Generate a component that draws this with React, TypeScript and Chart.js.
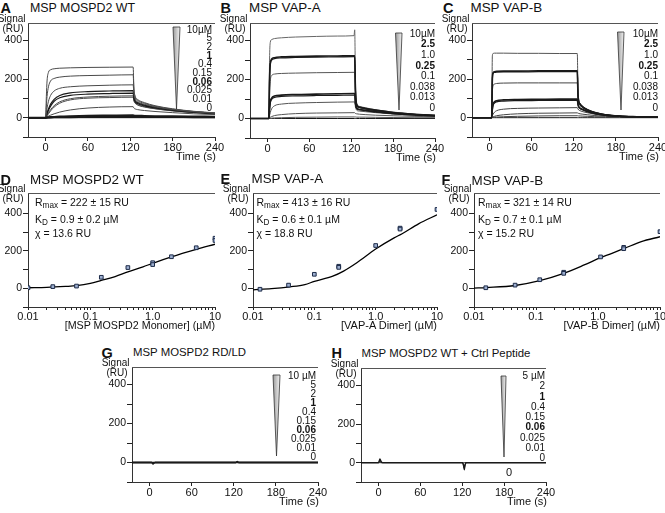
import { useEffect, useRef } from 'react';
import { Chart, registerables } from 'chart.js';
Chart.register(...registerables);

const NARROW = '"Liberation Sans Narrow", "Arial Narrow", "Liberation Sans", Arial, sans-serif';
const SANS = '"Liberation Sans", Arial, Helvetica, sans-serif';

// ---------- axis ticks ----------
const TIME_TICKS = [0, 60, 120, 180, 240];
const SIGNAL_TICKS = [-100, 0, 100, 200, 300, 400];
const SIGNAL_LABELED = [0, 200, 400];
const CONC_TICKS = [0.01, 0.02, 0.03, 0.04, 0.05, 0.06, 0.07, 0.08, 0.09, 0.1, 0.2, 0.3, 0.4, 0.5, 0.6, 0.7, 0.8, 0.9, 1, 2, 3, 4, 5, 6, 7, 8, 9, 10];
const CONC_LABELED = [0.01, 0.1, 1, 10];
const CONC_LABEL_TEXT = ['0.01', '0.1', '1.0', '10'];

// ---------- A: MSP MOSPD2 WT sensorgrams ----------
const A_T = [-25, 0, 1, 2, 4, 7, 12, 20, 35, 60, 90, 124, 125, 127, 130, 140, 155, 180, 210, 240];
const A_10 = [0, 0, 110, 190, 235, 248, 253, 256, 258, 260, 261, 262, 160, 110, 95, 78, 62, 46, 33, 25];
const A_5 = [0, 0, 60, 110, 160, 190, 203, 210, 215, 218, 220, 222, 150, 104, 90, 74, 59, 44, 32, 24];
const A_2 = [0, 0, 25, 50, 85, 115, 138, 152, 160, 165, 168, 170, 125, 95, 83, 69, 56, 42, 31, 23];
const A_1a = [0, 0, 12, 25, 45, 70, 95, 115, 128, 135, 138, 140, 110, 88, 78, 65, 53, 40, 30, 22];
const A_1b = [0, 0, 10, 20, 38, 60, 85, 103, 115, 122, 125, 127, 100, 82, 73, 61, 50, 38, 28, 21];
const A_04a = [0, 0, 6, 12, 25, 42, 62, 82, 98, 107, 111, 113, 92, 77, 68, 57, 47, 36, 27, 20];
const A_04b = [0, 0, 5, 10, 20, 35, 55, 75, 92, 101, 104, 106, 88, 74, 66, 55, 46, 35, 26, 20];
const A_015 = [0, 0, 2, 4, 8, 13, 20, 29, 40, 50, 55, 57, 50, 45, 42, 37, 32, 26, 20, 16];
const A_006 = [0, 0, 0, 1, 2, 3, 4, 6, 8, 10, 11, 12, 11, 10, 10, 9, 8, 7, 6, 5];
const A_0025 = [0, 0, 0, 0, 1, 1, 2, 2, 3, 4, 5, 5, 5, 5, 5, 4, 4, 4, 3, 3];
const A_001 = [0, 0, 0, 0, 0, 0, 1, 1, 1, 2, 2, 2, 2, 2, 2, 2, 2, 2, 1, 1];
const A_0 = [0, 0, 0, 0, 0, 0, 0, 0, 0, 0, 0, 0, 0, 0, 0, 0, 0, 0, 0, 0];
const A_LEGEND = ['10µM', '5', '2', '1', '0.4', '0.15', '0.06', '0.025', '0.01', '0'];
const A_BOLD = ['1', '0.06'];

// ---------- B: MSP VAP-A sensorgrams ----------
const B_T = [-25, 0, 2, 3, 4, 6, 10, 20, 40, 70, 100, 124, 125, 126, 128, 132, 140, 155, 180, 210, 240];
const B_10 = [0, 0, 0, 300, 390, 405, 410, 414, 418, 421, 423, 425, 455, 200, 75, 62, 55, 45, 33, 23, 17];
const B_25a = [0, 0, 0, 200, 280, 305, 312, 316, 318, 320, 321, 322, 322, 150, 70, 58, 52, 43, 31, 22, 16];
const B_25b = [0, 0, 0, 195, 275, 300, 307, 311, 313, 315, 316, 317, 317, 145, 68, 57, 51, 42, 30, 21, 15];
const B_1 = [0, 0, 0, 120, 190, 220, 228, 231, 233, 235, 236, 237, 237, 110, 62, 54, 48, 40, 29, 20, 15];
const B_025a = [0, 0, 0, 50, 85, 105, 115, 120, 123, 125, 127, 128, 128, 80, 52, 46, 42, 35, 26, 19, 14];
const B_025b = [0, 0, 0, 45, 78, 98, 108, 113, 116, 118, 119, 120, 120, 76, 50, 45, 40, 34, 25, 18, 13];
const B_01 = [0, 0, 0, 15, 30, 50, 65, 74, 79, 82, 84, 85, 85, 60, 42, 38, 35, 30, 23, 17, 12];
const B_0038 = [0, 0, 0, 3, 6, 10, 15, 20, 25, 28, 29, 30, 30, 26, 24, 22, 20, 17, 14, 11, 9];
const B_0013 = [0, 0, 0, 1, 1, 2, 3, 4, 6, 7, 8, 8, 8, 8, 7, 7, 7, 6, 5, 4, 4];
const B_0 = [0, 0, 0, 0, 0, 0, 0, 0, 0, 0, 0, 0, 0, 0, 0, 0, 0, 0, 0, 0, 0];
const B_LEGEND = ['10µM', '2.5', '1.0', '0.25', '0.1', '0.038', '0.013', '0'];
const B_BOLD = ['2.5', '0.25'];

// ---------- C: MSP VAP-B sensorgrams ----------
const C_T = [-25, 0, 3, 4, 5, 7, 10, 20, 40, 70, 100, 125, 126, 127, 129, 133, 140, 150, 165, 185, 210, 240];
const C_10 = [0, 0, 0, 320, 332, 334, 334, 334, 333, 333, 332, 332, 150, 95, 75, 58, 42, 28, 16, 9, 5, 3];
const C_25a = [0, 0, 0, 200, 232, 238, 240, 241, 241, 242, 242, 242, 120, 85, 70, 55, 40, 27, 15, 8, 5, 3];
const C_25b = [0, 0, 0, 195, 228, 234, 236, 237, 237, 238, 238, 238, 118, 84, 69, 54, 39, 26, 15, 8, 5, 3];
const C_1 = [0, 0, 0, 130, 165, 174, 177, 179, 180, 180, 180, 180, 100, 75, 63, 50, 37, 25, 14, 8, 5, 3];
const C_025a = [0, 0, 0, 45, 70, 82, 88, 92, 94, 95, 96, 96, 70, 58, 50, 42, 32, 22, 13, 7, 4, 2];
const C_025b = [0, 0, 0, 40, 63, 76, 82, 86, 88, 89, 90, 90, 66, 55, 48, 40, 30, 21, 12, 7, 4, 2];
const C_01 = [0, 0, 0, 10, 18, 28, 36, 44, 48, 50, 51, 52, 45, 40, 36, 31, 25, 18, 11, 6, 4, 2];
const C_0038 = [0, 0, 0, 2, 4, 7, 10, 15, 20, 23, 24, 25, 23, 22, 20, 18, 15, 11, 7, 4, 3, 2];
const C_0013 = [0, 0, 0, 1, 1, 2, 3, 5, 7, 9, 10, 10, 10, 9, 9, 8, 7, 5, 4, 3, 2, 1];
const C_0 = [0, 0, 0, 0, 0, 0, 0, 0, 0, 0, 0, 0, 0, 0, 0, 0, 0, 0, 0, 0, 0, 0];
const C_LEGEND = ['10µM', '2.5', '1.0', '0.25', '0.1', '0.038', '0.013', '0'];
const C_BOLD = ['2.5', '0.25'];

// ---------- D/E/F: steady-state binding ----------
const D_X = [0.01, 0.025, 0.06, 0.15, 0.4, 1, 1, 2, 5, 10, 10];
const D_Y = [3, 9, 12, 59, 111, 137, 127, 169, 217, 268, 256];
const D_FIT_X = [0.01, 0.02, 0.04, 0.06, 0.1, 0.15, 0.25, 0.4, 0.7, 1, 2, 5, 10];
const D_FIT_Y = [3, 5, 10, 14, 26, 42, 63, 88, 115, 134, 168, 208, 236];

const E_X = [0.013, 0.038, 0.1, 0.25, 0.25, 1, 2.5, 2.5, 10];
const E_Y = [-5, 17, 75, 118, 112, 229, 322, 317, 422];
const E_FIT_X = [0.01, 0.02, 0.04, 0.07, 0.1, 0.2, 0.3, 0.5, 1, 2, 2.7, 5, 10];
const E_FIT_Y = [-8, -2, 8, 20, 37, 65, 92, 138, 210, 270, 292, 345, 393];

const F_X = [0.0155, 0.046, 0.115, 0.28, 0.28, 1.1, 2.6, 2.6, 10];
const F_Y = [3, 17, 46, 86, 80, 168, 219, 212, 303];
const F_FIT_X = [0.01, 0.016, 0.046, 0.115, 0.28, 0.6, 1.1, 2.6, 5, 10];
const F_FIT_Y = [1, 4, 15, 41, 80, 125, 164, 212, 250, 276];

// ---------- G / H: controls ----------
const G_T = [-25, 0, 3, 4, 5, 6, 8, 60, 123, 125, 127, 180, 240];
const G_a = [0, 0, 0, -4, -8, -4, 0, 0, 0, 5, 0, 0, 0];
const G_b = [0, 0, 0, -2, -5, -2, 0, 0, 0, 3, 0, 0, 0];
const G_c = [0, 0, 0, 0, 0, 0, 0, 0, 0, 0, 0, 0, 0];
const G_LEGEND = ['10 µM', '5', '2', '1', '0.4', '0.15', '0.06', '0.025', '0.01', '0'];
const G_BOLD = ['1', '0.06'];

const H_T = [-25, 0, 1, 2, 3, 4, 6, 60, 120, 121, 122, 123, 124, 126, 180, 240];
const H_a = [0, 0, 8, 20, 14, 4, 0, 0, 0, -5, -20, -38, -15, 0, 0, 0];
const H_b = [0, 0, 5, 15, 10, 2, 0, 0, 0, -3, -12, -28, -10, 0, 0, 0];
const H_c = [0, 0, 0, 0, 0, 0, 0, 0, 0, 0, 0, 0, 0, 0, 0, 0];
const H_LEGEND = ['5 µM', '2', '1', '0.4', '0.15', '0.06', '0.025', '0.01', '0'];
const H_BOLD = ['1', '0.06'];

// ---------- panel geometry ----------
const ML = 34, MR = 14, MT = 6, MB = 24;

type Line = { t: number[]; v: number[]; color: string; width: number };
type Spec = {
  box: [number, number, number, number];
  kind: 'time' | 'conc';
  yMax: number;
  lines: Line[];
  points?: { x: number[]; y: number[] };
  wedge?: [number, number, number, number, number];
};

const DK = '#1a1a1a';
const GR = '#4a4a4a';
const L = (t: number[], v: number[], color: string, width: number): Line => ({ t, v, color, width });

const SPECS: Spec[] = [
  {
    box: [28, 23, 215, 137], kind: 'time', yMax: 490,
    wedge: [173, 180, 27, 176.5, 109],
    lines: [
      L(A_T, A_006, DK, 2), L(A_T, A_0025, DK, 1.6), L(A_T, A_001, DK, 1.4), L(A_T, A_0, DK, 1),
      L(A_T, A_10, GR, 1), L(A_T, A_5, GR, 1), L(A_T, A_2, GR, 1), L(A_T, A_1a, DK, 1.2),
      L(A_T, A_1b, DK, 1.2), L(A_T, A_04a, GR, 1), L(A_T, A_04b, GR, 1), L(A_T, A_015, GR, 1),
    ],
  },
  {
    box: [250, 23, 435, 138], kind: 'time', yMax: 490,
    wedge: [395.5, 402, 33, 399, 110],
    lines: [
      L(B_T, B_25a, DK, 1.6), L(B_T, B_25b, DK, 1.2), L(B_T, B_025a, DK, 1.6), L(B_T, B_025b, DK, 1.2),
      L(B_T, B_10, '#666', 1), L(B_T, B_1, '#555', 1), L(B_T, B_01, '#555', 1),
      L(B_T, B_0038, '#555', 1), L(B_T, B_0013, '#555', 1), L(B_T, B_0, DK, 1),
    ],
  },
  {
    box: [472, 23, 658, 137], kind: 'time', yMax: 490,
    wedge: [617.5, 624, 32, 621, 110],
    lines: [
      L(C_T, C_25a, DK, 1.6), L(C_T, C_25b, DK, 1.2), L(C_T, C_025a, DK, 1.6), L(C_T, C_025b, DK, 1.2),
      L(C_T, C_10, '#555', 1), L(C_T, C_1, '#444', 1), L(C_T, C_01, '#444', 1),
      L(C_T, C_0038, '#444', 1), L(C_T, C_0013, '#444', 1), L(C_T, C_0, DK, 1),
    ],
  },
  {
    box: [28, 193, 215, 307], kind: 'conc', yMax: 510,
    points: { x: D_X, y: D_Y },
    lines: [L(D_FIT_X, D_FIT_Y, '#000', 1.3)],
  },
  {
    box: [253, 193, 437, 307], kind: 'conc', yMax: 510,
    points: { x: E_X, y: E_Y },
    lines: [L(E_FIT_X, E_FIT_Y, '#000', 1.3)],
  },
  {
    box: [474, 193, 660, 307], kind: 'conc', yMax: 510,
    points: { x: F_X, y: F_Y },
    lines: [L(F_FIT_X, F_FIT_Y, '#000', 1.3)],
  },
  {
    box: [132, 367, 318, 482], kind: 'time', yMax: 490,
    wedge: [273, 280, 375, 276.5, 456],
    lines: [L(G_T, G_a, DK, 1.4), L(G_T, G_b, DK, 1.4), L(G_T, G_c, DK, 1.6)],
  },
  {
    box: [361, 368, 546, 482], kind: 'time', yMax: 490,
    wedge: [501, 506, 376, 504, 457],
    lines: [L(H_T, H_a, DK, 1.2), L(H_T, H_b, DK, 1.2), L(H_T, H_c, DK, 1)],
  },
];

function geom(box: [number, number, number, number]) {
  const [l, t, r, b] = box;
  return { x: l - ML, y: t - MT, w: r - l + ML + MR, h: b - t + MT + MB };
}

function makeConfig(spec: Spec, g: { x: number; y: number }): any {
  const datasets: any[] = [];
  if (spec.points) {
    datasets.push({
      type: 'scatter',
      data: spec.points.x.map((x, i) => ({ x, y: spec.points!.y[i] })),
      pointStyle: 'rect',
      pointRadius: 2.6,
      borderWidth: 1,
      borderColor: '#1d2b48',
      backgroundColor: '#9dafd0',
    });
  }
  for (const ln of spec.lines) {
    datasets.push({
      type: 'line',
      data: ln.t.map((x, i) => ({ x, y: ln.v[i] })),
      borderColor: ln.color,
      borderWidth: ln.width,
      pointRadius: 0,
      fill: false,
      cubicInterpolationMode: 'monotone',
    });
  }
  const axisGrid = { display: true, drawOnChartArea: false, drawTicks: true, tickLength: 4, color: '#222', lineWidth: 1 };
  const axisBorder = { display: true, color: '#333', width: 1 };
  const xScale: any = spec.kind === 'time'
    ? {
        type: 'linear', min: -25, max: 240,
        afterBuildTicks: (s: any) => { s.ticks = TIME_TICKS.map((value) => ({ value })); },
        ticks: { callback: (v: any) => String(v), font: { family: NARROW, size: 11 }, color: '#111', padding: 0, maxRotation: 0, autoSkip: false },
      }
    : {
        type: 'logarithmic', min: 0.01, max: 10,
        afterBuildTicks: (s: any) => { s.ticks = CONC_TICKS.map((value) => ({ value })); },
        ticks: {
          callback: (v: any) => { const i = CONC_LABELED.indexOf(v); return i >= 0 ? CONC_LABEL_TEXT[i] : ''; },
          font: { family: NARROW, size: 11 }, color: '#111', padding: 0, maxRotation: 0, autoSkip: false,
        },
      };
  xScale.grid = { ...axisGrid, tickLength: spec.kind === 'time' ? 4 : 3 };
  xScale.border = axisBorder;
  xScale.afterFit = (s: any) => { s.height = MB; s.paddingLeft = 0; s.paddingRight = 0; };

  const yScale: any = {
    type: 'linear', min: -100, max: spec.yMax,
    afterBuildTicks: (s: any) => { s.ticks = SIGNAL_TICKS.map((value) => ({ value })); },
    ticks: {
      callback: (v: any) => (SIGNAL_LABELED.includes(v) ? String(v) : ''),
      font: { family: NARROW, size: 10.5 }, color: '#111', padding: 1, autoSkip: false,
    },
    grid: { ...axisGrid, tickLength: 5 },
    border: axisBorder,
    afterFit: (s: any) => { s.width = ML; s.paddingTop = 0; s.paddingBottom = 0; },
  };

  const deco = {
    id: 'deco',
    afterDraw(chart: any) {
      const { ctx, chartArea: a } = chart;
      ctx.save();
      ctx.strokeStyle = '#555';
      ctx.lineWidth = 1;
      ctx.beginPath();
      ctx.moveTo(a.left, a.top + 0.5);
      ctx.lineTo(a.right, a.top + 0.5);
      ctx.stroke();
      if (spec.wedge) {
        const [x1, x2, yt, tx, ty] = spec.wedge;
        const X1 = x1 - g.x, X2 = x2 - g.x, YT = yt - g.y, TX = tx - g.x, TY = ty - g.y;
        const grad = ctx.createLinearGradient(X1, 0, X2, 0);
        grad.addColorStop(0, '#9a9a9a');
        grad.addColorStop(1, '#f4f4f4');
        ctx.beginPath();
        ctx.moveTo(X1, YT);
        ctx.lineTo(X2, YT);
        ctx.lineTo(TX, TY);
        ctx.closePath();
        ctx.fillStyle = grad;
        ctx.fill();
        ctx.strokeStyle = '#333';
        ctx.lineWidth = 0.8;
        ctx.stroke();
      }
      ctx.restore();
    },
  };

  return {
    type: 'line',
    data: { datasets },
    options: {
      responsive: false,
      animation: false,
      devicePixelRatio: 1,
      layout: { padding: { top: MT, right: MR, left: 0, bottom: 0 } },
      plugins: { legend: { display: false }, tooltip: { enabled: false }, title: { display: false } },
      scales: { x: xScale, y: yScale },
    },
    plugins: [deco],
  };
}

function Panel({ spec }: { spec: Spec }) {
  const ref = useRef<HTMLCanvasElement>(null);
  const g = geom(spec.box);
  useEffect(() => {
    const chart = new Chart(ref.current as HTMLCanvasElement, makeConfig(spec, g));
    return () => chart.destroy();
  }, []);
  return (
    <canvas
      ref={ref}
      width={g.w}
      height={g.h}
      style={{ position: 'absolute', left: g.x, top: g.y, width: g.w, height: g.h }}
    />
  );
}

type TProps = {
  x: number; y: number; size: number; align?: 'left' | 'right' | 'center';
  bold?: boolean; family?: string; children: any;
};
function T({ x, y, size, align = 'left', bold, family = SANS, children }: TProps) {
  const tr = align === 'right' ? 'translateX(-100%)' : align === 'center' ? 'translateX(-50%)' : undefined;
  return (
    <div
      style={{
        position: 'absolute', left: x, top: y - 0.8465 * size, fontSize: size, lineHeight: `${size}px`,
        fontFamily: family, fontWeight: bold ? 700 : 400, whiteSpace: 'nowrap', transform: tr, color: '#111',
      }}
    >
      {children}
    </div>
  );
}

function Sub({ children }: { children: any }) {
  return <span style={{ fontSize: '0.78em', position: 'relative', top: '0.32em' }}>{children}</span>;
}

function Legend({ labels, bold, right, y0, y1 }: { labels: string[]; bold: string[]; right: number; y0: number; y1: number }) {
  const step = (y1 - y0) / (labels.length - 1);
  return (
    <>
      {labels.map((s, i) => (
        <T key={i} x={right} y={y0 + i * step + 3.6} size={10} align="right" family={NARROW} bold={bold.includes(s)}>
          {s}
        </T>
      ))}
    </>
  );
}

function SignalLabel({ box }: { box: [number, number, number, number] }) {
  return (
    <>
      <T x={box[0] - 2.5} y={box[1] - 0.5} size={10} align="right" family={NARROW}>Signal</T>
      <T x={box[0] - 4.5} y={box[1] + 9} size={10} align="right" family={NARROW}>(RU)</T>
    </>
  );
}

function FitText({ x, rmax, kd, chi }: { x: number; rmax: string; kd: string; chi: string }) {
  return (
    <>
      <T x={x} y={205.5} size={10.5}>R<Sub>max</Sub> = {rmax}</T>
      <T x={x} y={222.5} size={10.5}>K<Sub>D</Sub> = {kd}</T>
      <T x={x} y={237} size={10.5}>χ = {chi}</T>
    </>
  );
}

export default function App() {
  const [A, B, C, D, E, F, G, H] = SPECS;
  return (
    <div style={{ position: 'absolute', left: 0, top: 0, width: 665, height: 513, background: '#fff', overflow: 'hidden' }}>
      {SPECS.map((s, i) => <Panel key={i} spec={s} />)}

      {/* panel letters + titles */}
      <T x={0.5} y={12.8} size={14.5} bold>A</T>
      <T x={30} y={12.5} size={12.4}>MSP MOSPD2 WT</T>
      <T x={220.5} y={12.8} size={14.5} bold>B</T>
      <T x={249} y={12} size={13.4}>MSP VAP-A</T>
      <T x={443} y={13.2} size={14.5} bold>C</T>
      <T x={470.5} y={12.8} size={13.4}>MSP VAP-B</T>
      <T x={0.5} y={184.8} size={14.5} bold>D</T>
      <T x={30} y={184} size={13.4}>MSP MOSPD2 WT</T>
      <T x={220.5} y={184.5} size={14.5} bold>E</T>
      <T x={251.5} y={183.5} size={13.4}>MSP VAP-A</T>
      <T x={441.5} y={185.3} size={14.5} bold>F</T>
      <T x={471.5} y={185} size={13.4}>MSP VAP-B</T>
      <T x={101.5} y={358} size={14.5} bold>G</T>
      <T x={133} y={357} size={11.4}>MSP MOSPD2 RD/LD</T>
      <T x={331.5} y={358.3} size={14.5} bold>H</T>
      <T x={361.5} y={358} size={11.4}>MSP MOSPD2 WT + Ctrl Peptide</T>

      {SPECS.map((s, i) => <SignalLabel key={i} box={s.box} />)}

      {[A, B, C, G, H].map((s, i) => (
        <T key={i} x={s.box[2] + 1} y={s.box[3] + 23.5} size={11} align="right" family={NARROW}>Time (s)</T>
      ))}
      <T x={215} y={329.5} size={10.7} align="right">[MSP MOSPD2 Monomer] (µM)</T>
      <T x={437} y={329.5} size={11} align="right" family={NARROW}>[VAP-A Dimer] (µM)</T>
      <T x={660} y={329.5} size={11} align="right" family={NARROW}>[VAP-B Dimer] (µM)</T>

      <FitText x={35} rmax="222 ± 15 RU" kd="0.9 ± 0.2 µM" chi="13.6 RU" />
      <FitText x={256.5} rmax="413 ± 16 RU" kd="0.6 ± 0.1 µM" chi="18.8 RU" />
      <FitText x={478} rmax="321 ± 14 RU" kd="0.7 ± 0.1 µM" chi="15.2 RU" />

      <Legend labels={A_LEGEND} bold={A_BOLD} right={212} y0={29.5} y1={107.5} />
      <Legend labels={B_LEGEND} bold={B_BOLD} right={435} y0={33.5} y1={108} />
      <Legend labels={C_LEGEND} bold={C_BOLD} right={658} y0={33.5} y1={108} />
      <Legend labels={G_LEGEND} bold={G_BOLD} right={316} y0={375.5} y1={456.5} />
      <Legend labels={H_LEGEND} bold={H_BOLD} right={545} y0={376} y1={458} />

      <T x={509} y={476.5} size={11} align="center" family={NARROW}>0</T>
    </div>
  );
}
